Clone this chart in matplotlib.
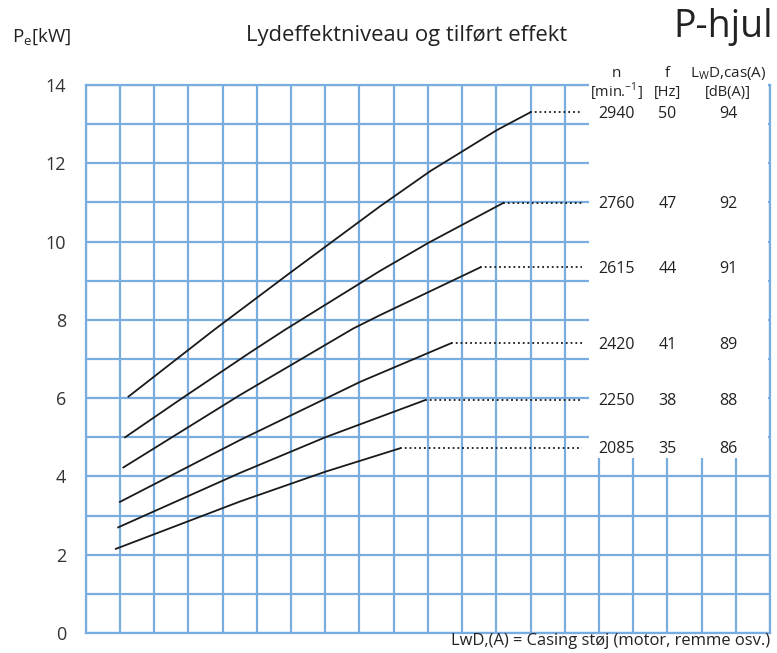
import matplotlib
matplotlib.use("Agg")
import matplotlib.pyplot as plt
from matplotlib.patches import Rectangle

plt.rcParams['font.family'] = ['Open Sans', 'DejaVu Sans']
plt.rcParams['mathtext.fontset'] = 'custom'
plt.rcParams['mathtext.rm'] = 'Open Sans'

GRID = '#7aaddf'
INK = '#222222'

# speed, frequency, casing noise
speeds = ['2940', '2760', '2615', '2420', '2250', '2085']
freqs = ['50', '47', '44', '41', '38', '35']
noise = ['94', '92', '91', '89', '88', '86']

# curve points (x in grid units, P_e in kW)
x_2940 = [1.25, 3.73, 5.97, 8.6, 10.07, 12.02, 12.99]
p_2940 = [6.04, 7.73, 9.2, 10.9, 11.8, 12.85, 13.30]
x_2760 = [1.15, 2.82, 4.81, 5.83, 8.6, 10.02, 12.21]
p_2760 = [5.0, 6.0, 7.17, 7.75, 9.25, 9.97, 10.99]
x_2615 = [1.1, 4.51, 7.82, 8.6, 11.53]
p_2615 = [4.23, 6.08, 7.78, 8.12, 9.34]
x_2420 = [1.0, 4.51, 8.03, 10.67]
p_2420 = [3.35, 4.93, 6.42, 7.40]
x_2250 = [0.95, 4.51, 7.0, 9.92]
p_2250 = [2.70, 4.09, 5.0, 5.95]
x_2085 = [0.88, 4.51, 7.0, 9.19]
p_2085 = [2.15, 3.36, 4.12, 4.72]

curves = [(x_2940, p_2940), (x_2760, p_2760), (x_2615, p_2615),
          (x_2420, p_2420), (x_2250, p_2250), (x_2085, p_2085)]
dot_end = 14.5

fig = plt.figure(figsize=(7.77, 6.53), dpi=100)
ax = fig.add_axes([0.1103, 0.0306, 0.8807, 0.8392])
ax.set_xlim(0, 20)
ax.set_ylim(0, 14)
ax.set_xticks(range(0, 21))
ax.set_xticklabels([])
ax.set_yticks(range(0, 15, 2))
ax.set_yticks(range(1, 14, 2), minor=True)
ax.tick_params(which='both', length=0, labelsize=13, labelcolor='#333333', pad=14)
ax.grid(which='both', color=GRID, lw=1.6)
ax.set_axisbelow(True)
for s in ax.spines.values():
    s.set_color(GRID)
    s.set_linewidth(1.6)

# white panel behind the table
ax.add_patch(Rectangle((14.7, 4.47), 5.23, 9.8, facecolor='white',
                       edgecolor='none', zorder=3, clip_on=False))

for (xs, ps), n, f, l in zip(curves, speeds, freqs, noise):
    ax.plot(xs, ps, color='#1a1a1a', lw=1.3, zorder=4)
    ax.plot([xs[-1], dot_end], [ps[-1], ps[-1]], color='#1a1a1a', lw=1.3,
            ls=':', zorder=4)
    for xx, t in zip([15.5, 17.0, 18.78], [n, f, l]):
        ax.text(xx, ps[-1] - 0.03, t, ha='center', va='center', fontsize=11.5,
                color=INK, zorder=5)

heads1 = ['n', 'f', r'L$_\mathregular{W}$D,cas(A)']
heads2 = [r'[min.$^\mathregular{-1}$]', '[Hz]', '[dB(A)]']
for xx, h1, h2 in zip([15.5, 17.0, 18.78], heads1, heads2):
    ax.text(xx, 14.3, h1, ha='center', va='center', fontsize=11, color=INK,
            zorder=5, clip_on=False)
    ax.text(xx, 13.82, h2, ha='center', va='center', fontsize=10.5, color=INK,
            zorder=5, clip_on=False)

W, H = 777, 653
fig.text(12 / W, 1 - 42 / H, r'P$_\mathregular{e}$[kW]', ha='left',
         va='baseline', fontsize=13.5, color=INK)
fig.text(406.7 / W, 1 - 41 / H, 'Lydeffektniveau og tilført effekt',
         ha='center', va='baseline', fontsize=15.8, color=INK)
fig.text(773 / W, 1 - 37 / H, 'P-hjul', ha='right', va='baseline',
         fontsize=27, color=INK)
fig.text(770 / W, 1 - 645 / H, 'LwD,(A) = Casing støj (motor, remme osv.)',
         ha='right', va='baseline', fontsize=11.9, color=INK)

fig.savefig('out.png', dpi=100)
